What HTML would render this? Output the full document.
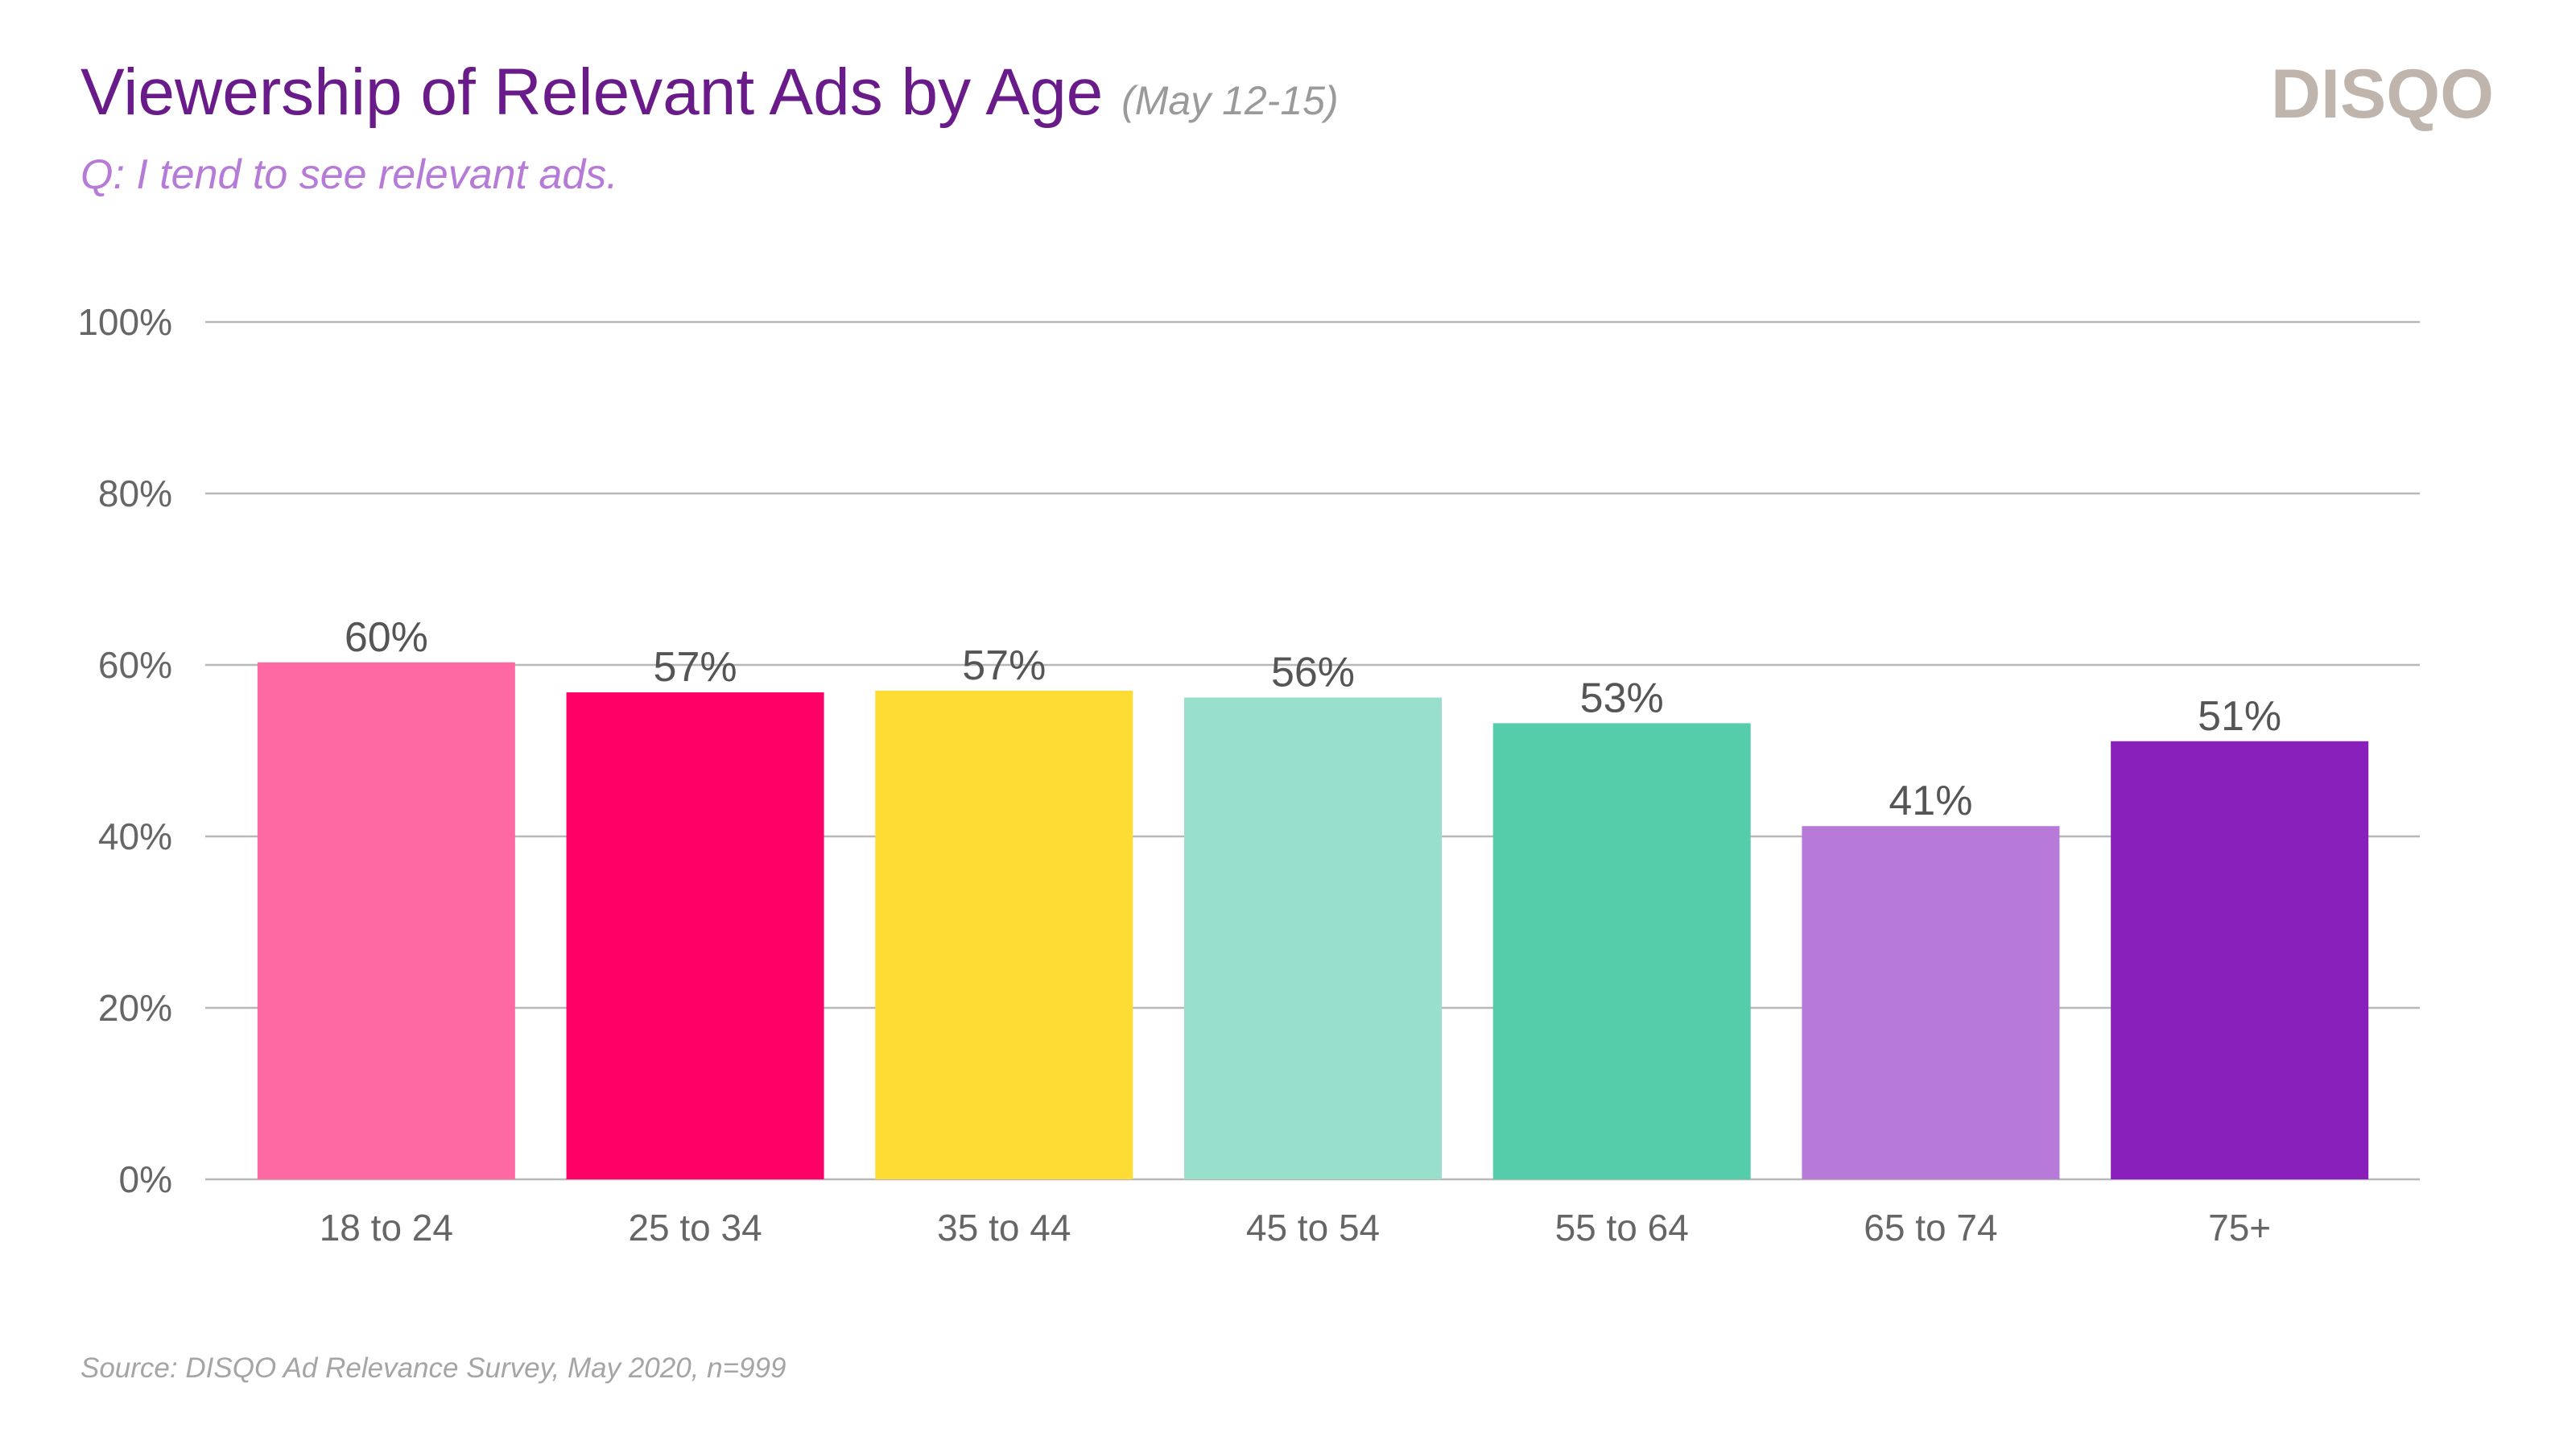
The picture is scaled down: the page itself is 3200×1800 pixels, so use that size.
<!DOCTYPE html>
<html><head><meta charset="utf-8"><style>
body{margin:0;background:#fff;width:3200px;height:1800px;overflow:hidden;font-family:"Liberation Sans",sans-serif}
svg{display:block}
</style></head><body>
<svg width="3200" height="1800">
<text x="100" y="142" font-size="82" fill="#6a1b8a">Viewership of Relevant Ads by Age <tspan font-size="50" font-style="italic" fill="#9a9a9a">(May 12-15)</tspan></text>
<text x="100" y="234" font-size="52" font-style="italic" fill="#b57bd6">Q: I tend to see relevant ads.</text>
<text x="3098" y="146" font-size="86" font-weight="bold" fill="#bfb5ad" text-anchor="end">DISQO</text>
<g id="grid"></g><g id="bars"></g>
<text x="100" y="1711" font-size="35" font-style="italic" fill="#a5a5a5">Source: DISQO Ad Relevance Survey, May 2020, n=999</text>
</svg>
<script>
const categories=["18 to 24","25 to 34","35 to 44","45 to 54","55 to 64","65 to 74","75+"];
const values=[60.3,56.8,57.0,56.2,53.2,41.2,51.1];
const valueLabels=["60%","57%","57%","56%","53%","41%","51%"];
const ticks=[0,20,40,60,80,100];
const colors=["#ff69a3","#ff0066","#ffdc33","#99e0cc","#55cdab","#b87ad8","#8a20bb"];
const NS="http://www.w3.org/2000/svg";
const L=255,R=3006,Y0=1465,Y100=400;
const BAND0=288,BAND1=2974;
const y=v=>Y0-(v/100)*(Y0-Y100);
const step=(BAND1-BAND0)/categories.length;
const x=i=>BAND0+step*i+step/2;
const bw=320;
function mk(t,a,p){const e=document.createElementNS(NS,t);for(const k in a)e.setAttribute(k,a[k]);p.appendChild(e);return e;}
const g=document.getElementById('grid'),b=document.getElementById('bars');
ticks.forEach(t=>{
 const ln=mk('line',{x1:L,x2:R,y1:y(t),y2:y(t),stroke:'#b8b8b8','stroke-width':2.5},g);
 
 
 const tx=mk('text',{x:214,y:y(t)+16,'font-size':46,fill:'#666','text-anchor':'end'},g);
 tx.textContent=t+'%';
 
 
});
categories.forEach((c,i)=>{
 const r=mk('rect',{x:x(i)-bw/2,y:y(values[i]),width:bw,height:Y0-y(values[i]),fill:colors[i]},b);
 
 
 const v=mk('text',{x:x(i),y:y(values[i])-14,'font-size':52,fill:'#555','text-anchor':'middle'},b);
 v.textContent=valueLabels[i];
 
 
 const cl=mk('text',{x:x(i),y:1541,'font-size':46,fill:'#666','text-anchor':'middle'},b);
 cl.textContent=c;
 
 
});
</script>
</body></html>
